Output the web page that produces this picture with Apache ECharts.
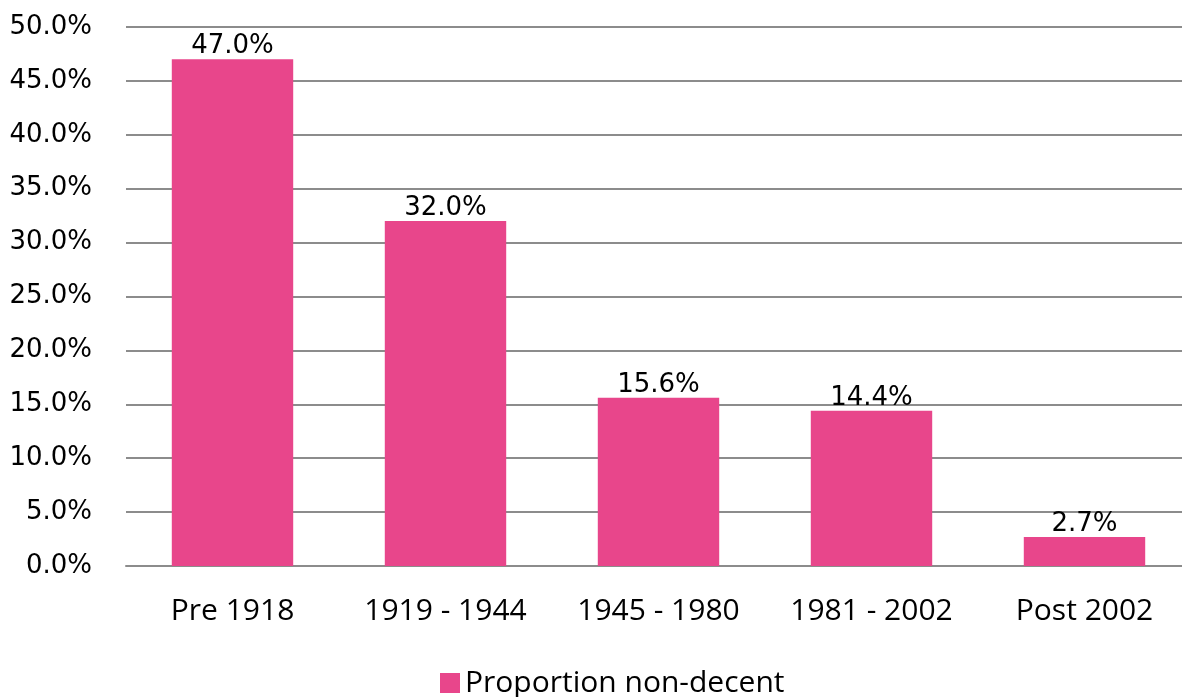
<!DOCTYPE html>
<html>
<head>
<meta charset="utf-8">
<script src="https://cdn.jsdelivr.net/npm/echarts@6/dist/echarts.min.js"></script>
<style>
  html, body { margin: 0; padding: 0; background: #fff; }
  #chart { width: 1182px; height: 697px; }
</style>
</head>
<body>
<div id="chart"></div>
<script>
const categories = ['Pre 1918', '1919 - 1944', '1945 - 1980', '1981 - 2002', 'Post 2002'];
const proportionNonDecent = [47.0, 32.0, 15.6, 14.4, 2.7];
const seriesName = 'Proportion non-decent';

const chart = echarts.init(document.getElementById('chart'));

chart.setOption({
  backgroundColor: '#ffffff',
  animation: false,
  grid: {
    left: 126,
    width: 1065,
    top: 27,
    bottom: 131,
    outerBoundsMode: 'none'
  },
  legend: {
    data: [seriesName],
    bottom: -6,
    left: 435,
    icon: 'rect',
    itemWidth: 20,
    itemHeight: 20,
    itemGap: 8,
    textStyle: {
      color: '#000',
      fontFamily: 'Open Sans',
      fontSize: 30
    }
  },
  xAxis: {
    type: 'category',
    data: categories,
    axisLine: { lineStyle: { color: '#8c8c8c', width: 2 } },
    axisTick: { show: false },
    axisLabel: {
      color: '#000',
      fontFamily: 'Open Sans',
      fontSize: 30,
      margin: 30,
      interval: 0
    }
  },
  yAxis: {
    type: 'value',
    min: 0,
    max: 50,
    interval: 5,
    axisLine: { show: false },
    axisTick: { show: false },
    axisLabel: {
      color: '#000',
      fontFamily: 'DejaVu Sans',
      fontSize: 26,
      margin: 34,
      formatter: (v) => v.toFixed(1) + '%'
    },
    splitLine: {
      lineStyle: { color: '#8c8c8c', width: 2 }
    }
  },
  series: [
    {
      name: seriesName,
      type: 'bar',
      data: proportionNonDecent,
      barWidth: '57%',
      itemStyle: { color: '#e8468b' },
      label: {
        show: true,
        position: 'top',
        distance: 0,
        color: '#000',
        fontFamily: 'DejaVu Sans',
        fontSize: 26,
        formatter: (p) => p.value.toFixed(1) + '%'
      }
    }
  ]
});
</script>
</body>
</html>
